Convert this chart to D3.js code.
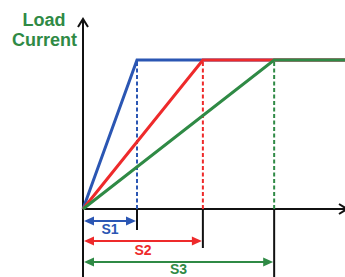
<!DOCTYPE html>
<html><head><meta charset="utf-8">
<script src="https://cdn.jsdelivr.net/npm/d3@7"></script>
<style>html,body{margin:0;padding:0;background:#fff;}svg{display:block;}</style>
</head><body>
<svg id="c" width="345" height="277"></svg>
<script>
const series = ["S1","S2","S3"];
const rampEnd = [1.0, 2.22, 3.54];
const plateau = [1, 1, 1];
const colors = ["#2b56b3","#ee2a2b","#2f8a45"];
const yLabel = ["Load","Current"];

const svg = d3.select("#c");
const x = d3.scaleLinear().domain([0, 1]).range([83, 137]);
const y = d3.scaleLinear().domain([0, 1]).range([209, 60]);
const xMax = x.invert(345);
const font = "Liberation Sans, Arial, sans-serif";

// axes
svg.append("line").attr("x1", x(0)).attr("x2", x(0)).attr("y1", 20).attr("y2", 277)
  .attr("stroke", "#111").attr("stroke-width", 2);
svg.append("path").attr("d", `M${x(0)-5},27 L${x(0)},19 L${x(0)+5},27`)
  .attr("fill", "none").attr("stroke", "#111").attr("stroke-width", 2);
svg.append("line").attr("x1", x(0)).attr("x2", 345).attr("y1", y(0)).attr("y2", y(0))
  .attr("stroke", "#111").attr("stroke-width", 2);
svg.append("path").attr("d", `M339,${y(0)-5} L347,${y(0)} L339,${y(0)+5}`)
  .attr("fill", "none").attr("stroke", "#111").attr("stroke-width", 2);

// y label
svg.append("text").attr("font-family", font)
  .attr("font-weight", "bold").attr("font-size", 18).attr("fill", "#2f8a45")
  .attr("text-anchor", "middle")
  .selectAll("tspan").data(yLabel).join("tspan")
  .attr("x", (d,i) => i === 0 ? 44 : 44.5).attr("y", (d,i) => 26 + i*20).text(d => d);

// dashed drops
series.forEach((s, i) => {
  svg.append("line").attr("x1", x(rampEnd[i])).attr("x2", x(rampEnd[i]))
    .attr("y1", y(plateau[i]) + 2).attr("y2", y(0))
    .attr("stroke", colors[i]).attr("stroke-width", 2).attr("stroke-dasharray", "4,2.5");
});

// ticks below axis
const tickBottom = [230, 248, 277];
series.forEach((s, i) => {
  svg.append("line").attr("x1", x(rampEnd[i])).attr("x2", x(rampEnd[i]))
    .attr("y1", y(0)).attr("y2", tickBottom[i])
    .attr("stroke", "#111").attr("stroke-width", 2);
});

// lines
const line = d3.line().x(d => x(d[0])).y(d => y(d[1]));
series.forEach((s, i) => {
  const pts = [[0,0],[rampEnd[i], plateau[i]],[xMax, plateau[i]]];
  svg.append("path").attr("d", line(pts)).attr("fill", "none")
    .attr("stroke", colors[i]).attr("stroke-width", 3).attr("stroke-linejoin", "miter");
});

// dimension arrows
const arrowY = [221, 241, 262];
const labelY = [234, 255, 273.5];
series.forEach((s, i) => {
  const x0 = x(0) + 1, x1 = x(rampEnd[i]) - 1, yy = arrowY[i], c = colors[i];
  svg.append("line").attr("x1", x0 + 8).attr("x2", x1 - 8).attr("y1", yy).attr("y2", yy)
    .attr("stroke", c).attr("stroke-width", 2);
  svg.append("path").attr("d", `M${x0},${yy} L${x0+10},${yy-4.5} L${x0+10},${yy+4.5}Z`).attr("fill", c);
  svg.append("path").attr("d", `M${x1},${yy} L${x1-10},${yy-4.5} L${x1-10},${yy+4.5}Z`).attr("fill", c);
  svg.append("text").attr("x", (x0 + x1) / 2).attr("y", labelY[i])
    .attr("text-anchor", "middle").attr("font-family", font)
    .attr("font-weight", "bold").attr("font-size", 14).attr("fill", c).text(s);
});
</script>
</body></html>
